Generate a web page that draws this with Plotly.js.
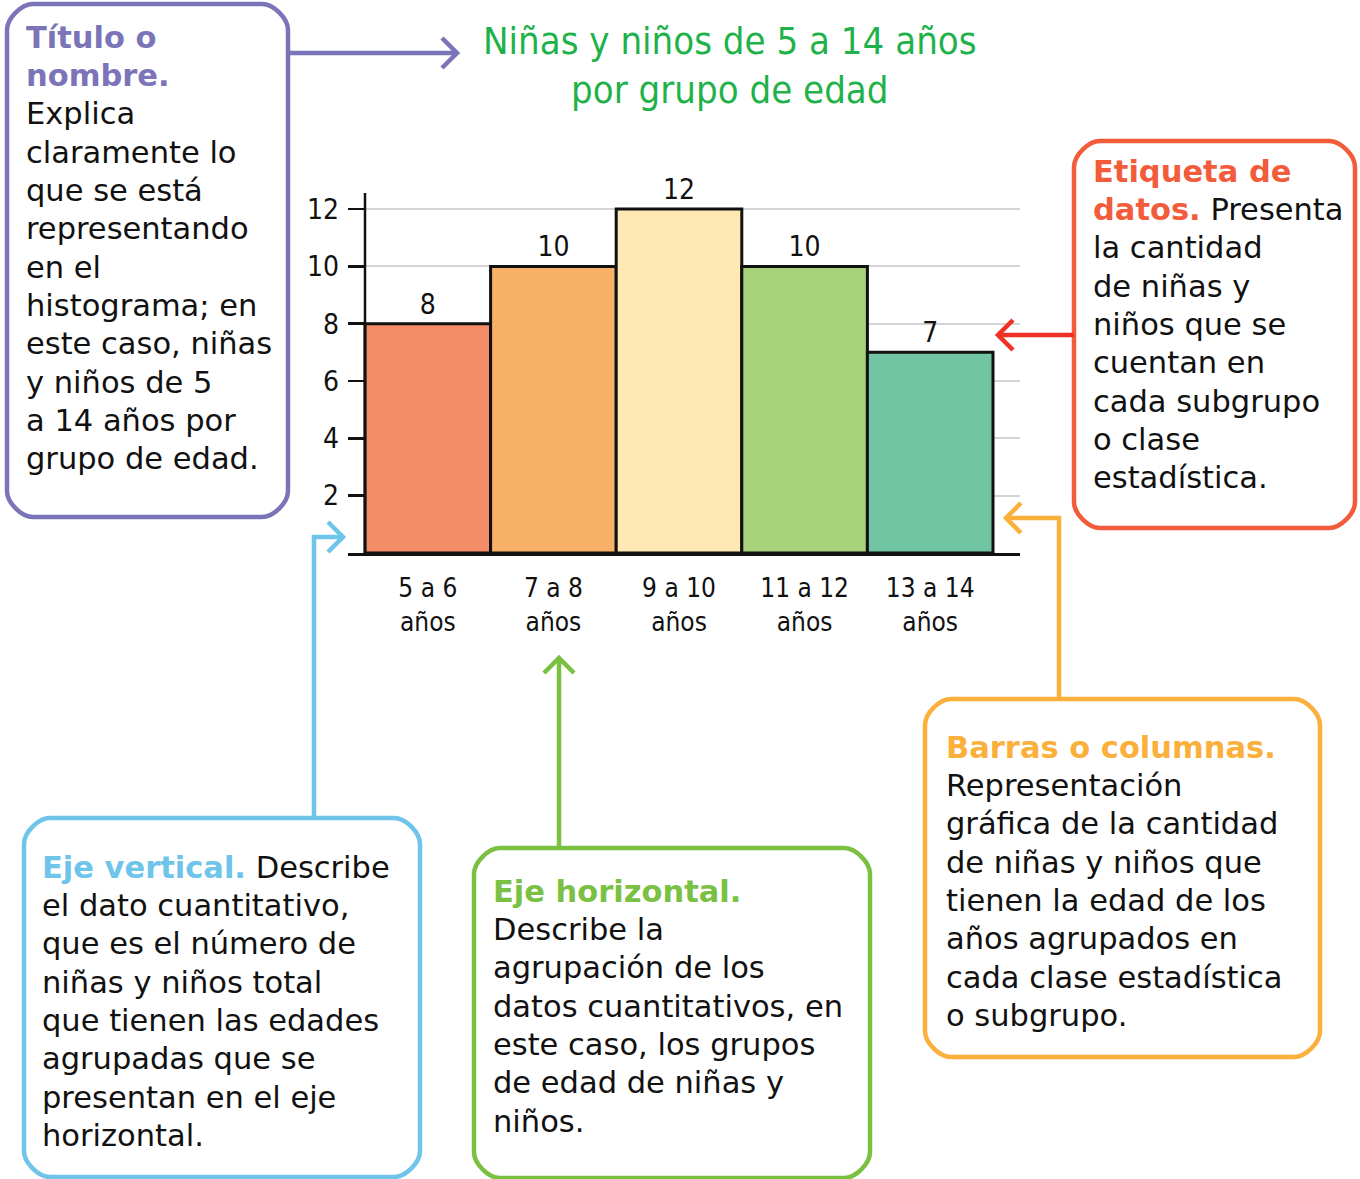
<!DOCTYPE html>
<html>
<head>
<meta charset="utf-8">
<script src="https://cdn.plot.ly/plotly-3.0.1.min.js"></script>
<style>
  html, body { margin: 0; padding: 0; background: #fff; }
  #plot { width: 1360px; height: 1179px; }
</style>
</head>
<body>
<div id="plot"></div>
<script>
// Datos del histograma
const categorias = ['5 a 6<br>años', '7 a 8<br>años', '9 a 10<br>años', '11 a 12<br>años', '13 a 14<br>años'];
const valores = [8, 10, 12, 10, 7];
const coloresBarras = ['#f58c68', '#f9b068', '#fee9b4', '#a6d27a', '#71c5a3'];
const marcasY = [2, 4, 6, 8, 10, 12];
const tituloGrafica = 'Niñas y niños de 5 a 14 años<br>por grupo de edad';

// Textos de los recuadros
const morado = '#7b74b8', rojo = '#f25c3b', naranja = '#fbb03b', azul = '#6ec4e9', verde = '#7ac143';
const hl = (t, c) => `<b><span style="color:${c}">${t}</span></b>`;

const lineasTitulo = [hl('Título o', morado), hl('nombre.', morado), 'Explica', 'claramente lo', 'que se está',
  'representando', 'en el', 'histograma; en', 'este caso, niñas', 'y niños de 5', 'a 14 años por', 'grupo de edad.'];
const lineasEtiqueta = [hl('Etiqueta de', rojo), hl('datos.', rojo) + ' Presenta', 'la cantidad', 'de niñas y',
  'niños que se', 'cuentan en', 'cada subgrupo', 'o clase', 'estadística.'];
const lineasBarras = [hl('Barras o columnas.', naranja), 'Representación', 'gráfica de la cantidad',
  'de niñas y niños que', 'tienen la edad de los', 'años agrupados en', 'cada clase estadística', 'o subgrupo.'];
const lineasVertical = [hl('Eje vertical.', azul) + ' Describe', 'el dato cuantitativo,', 'que es el número de',
  'niñas y niños total', 'que tienen las edades', 'agrupadas que se', 'presentan en el eje', 'horizontal.'];
const lineasHorizontal = [hl('Eje horizontal.', verde), 'Describe la', 'agrupación de los',
  'datos cuantitativos, en', 'este caso, los grupos', 'de edad de niñas y', 'niños.'];

// Área de trazado en píxeles
const W = 1360, H = 1179;
const L = 348, R = 1020, T = 193, B = 553;
const fx = x => (x - L) / (R - L);
const fy = y => (B - y) / (B - T);

const manoFont = '"DejaVu Sans Condensed", "Liberation Sans Narrow", "Arial Narrow", sans-serif';
const textoFont = '"DejaVu Sans", "Noto Sans", sans-serif';

function recuadro(x0, y0, x1, y1, r, color) {
  const k = 0.4477 * r;
  const p = (x, y) => `${fx(x)},${fy(y)}`;
  return {
    type: 'path', xref: 'paper', yref: 'paper', layer: 'above',
    line: { color: color, width: 4.5 },
    path: `M ${p(x0 + r, y0)} L ${p(x1 - r, y0)} C ${p(x1 - r + k, y0)} ${p(x1, y0 + r - k)} ${p(x1, y0 + r)} ` +
      `L ${p(x1, y1 - r)} C ${p(x1, y1 - r + k)} ${p(x1 - r + k, y1)} ${p(x1 - r, y1)} ` +
      `L ${p(x0 + r, y1)} C ${p(x0 + r - k, y1)} ${p(x0, y1 - r + k)} ${p(x0, y1 - r)} ` +
      `L ${p(x0, y0 + r)} C ${p(x0, y0 + r - k)} ${p(x0 + r - k, y0)} ${p(x0 + r, y0)} Z`
  };
}

function linea(puntos, color) {
  return {
    type: 'path', xref: 'paper', yref: 'paper', layer: 'above',
    line: { color: color, width: 4.5 },
    path: puntos.map((q, i) => (i ? 'L ' : 'M ') + fx(q[0]) + ',' + fy(q[1])).join(' ')
  };
}

// flecha abierta: punta en (x, y), dirección dx, dy
function punta(x, y, dx, dy, color) {
  const s = 15;
  const a = [x - dx * s - dy * s, y - dy * s - dx * s];
  const b = [x - dx * s + dy * s, y - dy * s + dx * s];
  return linea([a, [x, y], b], color);
}

// el texto de una anotación lleva unos 3 px de relleno
function bloque(lineas, x, yPrimera, paso) {
  return lineas.map((t, i) => ({
    xref: 'paper', yref: 'paper', x: fx(x - 3), y: fy(yPrimera + i * paso),
    xanchor: 'left', yanchor: 'middle', showarrow: false, align: 'left',
    text: t, font: { family: textoFont, size: 30.5, color: '#111' }
  }));
}

const paso = 38.35;

const shapes = [
  // eje vertical
  { type: 'line', xref: 'x', yref: 'paper', x0: -0.5, x1: -0.5, y0: 0, y1: 1, line: { color: '#111', width: 2.5 }, layer: 'above' },
  recuadro(7, 4, 288, 517, 26, morado),
  recuadro(1074, 141, 1355, 528, 26, rojo),
  recuadro(925, 699, 1320, 1057, 26, naranja),
  recuadro(24, 818, 420, 1177, 26, azul),
  recuadro(474, 848, 870, 1178, 26, verde),
  linea([[290, 53], [457, 53]], morado), punta(457, 53, 1, 0, morado),
  linea([[1074, 335], [998, 335]], '#ee3124'), punta(998, 335, -1, 0, '#ee3124'),
  linea([[1059, 699], [1059, 518], [1006, 518]], naranja), punta(1006, 518, -1, 0, naranja),
  linea([[314, 818], [314, 537], [343, 537]], azul), punta(343, 537, 1, 0, azul),
  linea([[559, 848], [559, 658]], verde), punta(559, 658, 0, -1, verde)
];

const annotations = [
  {
    xref: 'paper', yref: 'paper', x: fx(730), y: fy(66), xanchor: 'center', yanchor: 'middle',
    showarrow: false, text: tituloGrafica, font: { family: manoFont, size: 38, color: '#1fb24a' }
  },
  ...bloque(lineasTitulo, 27, 37, paso),
  ...bloque(lineasEtiqueta, 1094, 171, paso),
  ...bloque(lineasBarras, 947, 747, paso),
  ...bloque(lineasVertical, 43, 867, paso),
  ...bloque(lineasHorizontal, 494, 891, paso)
];

const trace = {
  type: 'bar',
  x: categorias,
  y: valores,
  marker: { color: coloresBarras, line: { color: '#111', width: 3 } },
  text: valores.map(String),
  textposition: 'outside',
  textfont: { family: manoFont, size: 28, color: '#111' },
  cliponaxis: false,
  hoverinfo: 'none'
};

const layout = {
  width: W, height: H,
  margin: { l: L, r: W - R, t: T, b: H - B, pad: 0 },
  paper_bgcolor: '#fff', plot_bgcolor: '#fff',
  showlegend: false,
  bargap: 0,
  xaxis: {
    type: 'category',
    range: [-0.5 - 17 / 125.6, -0.5 - 17 / 125.6 + (R - L) / 125.6],
    showline: true, linecolor: '#111', linewidth: 2.5,
    showgrid: false, zeroline: false, ticks: '',
    tickfont: { family: manoFont, size: 26, color: '#111' },
    ticklabelstandoff: 10,
    fixedrange: true
  },
  yaxis: {
    range: [0, 12.56],
    tickvals: marcasY,
    ticks: 'inside', ticklen: 16, tickwidth: 2.5, tickcolor: '#111',
    showline: false, zeroline: false,
    showgrid: true, gridcolor: '#d4d4d6', gridwidth: 2,
    tickfont: { family: manoFont, size: 28, color: '#111' },
    ticklabelstandoff: 8,
    fixedrange: true
  },
  shapes: shapes,
  annotations: annotations
};

const config = { displayModeBar: false, responsive: false, staticPlot: true };

Plotly.newPlot('plot', [trace], layout, config);
</script>
</body>
</html>
